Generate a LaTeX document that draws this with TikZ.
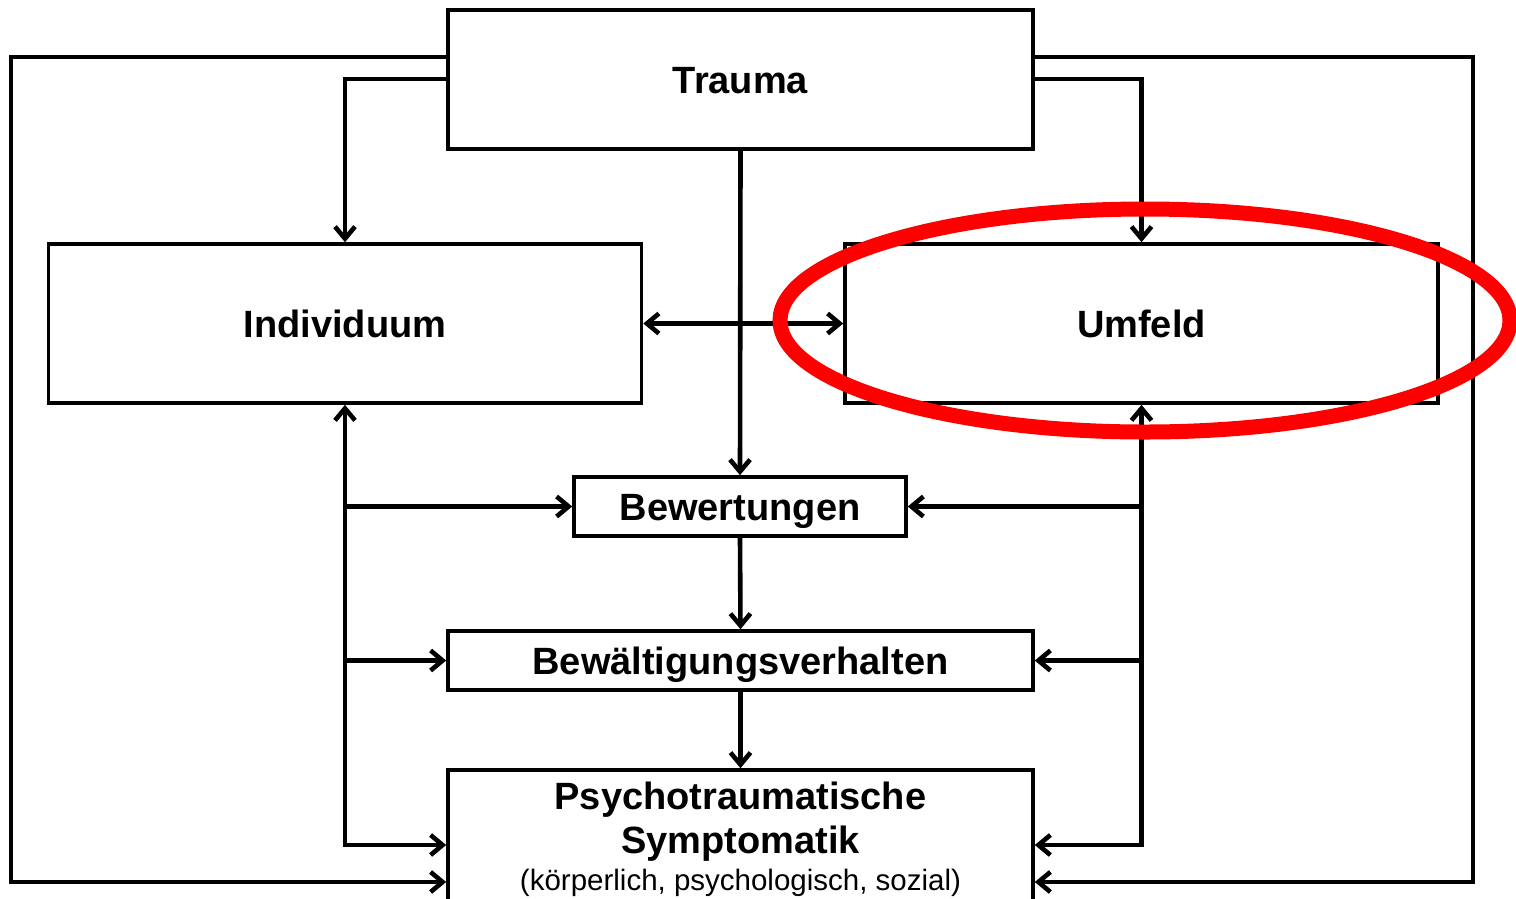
\documentclass[tikz,border=0pt]{standalone}
\usepackage{fontspec}
\setmainfont{Liberation Sans}
\usetikzlibrary{arrows.meta}
\begin{document}
\begin{tikzpicture}[x=1pt,y=-1pt,
  box/.style={draw,line width=3.6pt,inner sep=0pt,text height=27pt,text depth=0pt,font=\fontsize{38}{41}\selectfont\bfseries},
  conn/.style={line width=4.6pt},
  fwd/.style={conn,-{Straight Barb[length=12pt,width=20pt]}},
  both/.style={conn,{Straight Barb[length=12pt,width=20pt]}-{Straight Barb[length=12pt,width=20pt]}}]
\useasboundingbox (0,0) rectangle (1516,898);
\node[box,minimum width=585pt,minimum height=139pt] (trauma) at (740.5,79.5) {Trauma};
\node[box,minimum width=593pt,minimum height=159pt] (indiv) at (345,323.5) {Individuum};
\node[box,minimum width=593pt,minimum height=159pt] (umfeld) at (1141.5,323.5) {Umfeld};
\node[box,minimum width=332pt,minimum height=59pt] (bew) at (740,506.5) {Bewertungen};
\node[box,minimum width=585pt,minimum height=59pt] (bewa) at (740.5,660.5) {Bewältigungsverhalten};
\node[box,minimum width=585pt,minimum height=170pt] (psy) at (740.5,855) {};
\node[anchor=base,inner sep=0pt,font=\fontsize{38}{41}\selectfont\bfseries] (psy1) at (740.5,809) {Psychotraumatische};
\node[anchor=base,inner sep=0pt,font=\fontsize{38}{41}\selectfont\bfseries] (psy2) at (740.5,853) {Symptomatik};
\node[anchor=base,inner sep=0pt,font=\fontsize{29.5}{32}\selectfont] (psy3) at (740.5,890) {(körperlich, psychologisch, sozial)};
% outer loops
\draw[fwd] (trauma.west |- 0,57) -| (11,882) -- (psy.west |- 0,882);
\draw[fwd] (trauma.east |- 0,57) -| (1473,882) -- (psy.east |- 0,882);
% trauma to individuum / umfeld
\draw[fwd] (trauma.west |- 0,79) -| (indiv.north);
\draw[fwd] (trauma.east |- 0,79) -| (umfeld.north);
% central chain
\draw[fwd] (trauma.south) -- (bew.north);
\draw[fwd] (bew.south) -- (bewa.north);
\draw[fwd] (bewa.south) -- (psy.north);
\draw[both] (indiv.east) -- (umfeld.west);
% left column
\draw[both] (indiv.south) |- (psy.west |- 0,845);
\draw[fwd] (indiv.south |- bew.west) -- (bew.west);
\draw[fwd] (indiv.south |- bewa.west) -- (bewa.west);
% right column
\draw[both] (umfeld.south) |- (psy.east |- 0,845);
\draw[fwd] (umfeld.south |- bew.east) -- (bew.east);
\draw[fwd] (umfeld.south |- bewa.east) -- (bewa.east);
% red highlight
\draw[draw={rgb,255:red,255;green,0;blue,0},line width=15pt] (1145,320.5) ellipse [x radius=365, y radius=111.5];
\end{tikzpicture}
\end{document}
